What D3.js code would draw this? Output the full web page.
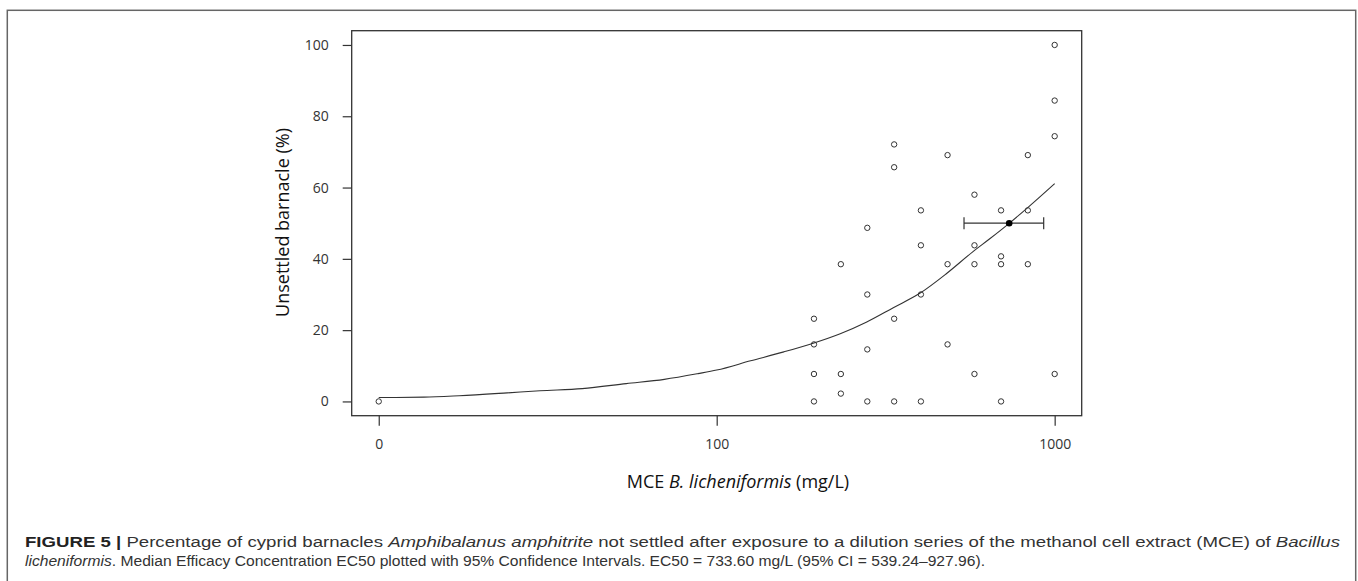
<!DOCTYPE html>
<html>
<head>
<meta charset="utf-8">
<script src="https://cdn.jsdelivr.net/npm/d3@7"></script>
<style>
  html, body { margin: 0; padding: 0; background: #fff; }
  svg { display: block; }
</style>
</head>
<body>
<svg id="chart" width="1358" height="581"></svg>
<script>
const obsDose = [
  0,
  194, 194, 194, 194,
  233, 233, 233,
  279, 279, 279, 279,
  335, 335, 335, 335,
  402, 402, 402, 402,
  482, 482, 482,
  579, 579, 579, 579,
  694, 694, 694, 694,
  833, 833, 833,
  1000, 1000, 1000, 1000
];
const obsValue = [
  0,
  23.2, 16.0, 7.7, 0,
  38.5, 7.7, 2.2,
  48.7, 30.0, 14.6, 0,
  72.1, 65.7, 23.2, 0,
  53.6, 43.8, 30.0, 0,
  69.1, 38.5, 16.0,
  58.0, 43.8, 38.5, 7.7,
  53.6, 40.7, 38.5, 0,
  69.1, 53.6, 38.5,
  100, 84.4, 74.4, 7.7
];

// fitted dose-response curve
const curveDose = [10, 13.6, 17.3, 24, 30, 40, 54, 70, 88, 100, 126, 158, 191, 232, 278, 333, 400, 479, 571, 644, 732, 826, 1000];
const curveValue = [1.1, 1.2, 1.6, 2.4, 3.0, 3.6, 5.0, 6.2, 7.8, 8.8, 11.4, 13.9, 16.2, 19.0, 22.3, 26.3, 30.4, 35.9, 41.9, 45.7, 49.9, 54.1, 61.1];

// EC50 with 95% CI
const ec50 = 733.60;
const ec50Response = 50;
const ciLow = 539.24;
const ciHigh = 927.96;

const xTickDose = [0, 100, 1000];
const xTickLabels = ["0", "100", "1000"];
const yTicks = [0, 20, 40, 60, 80, 100];

const breakDose = 10; // zero dose is drawn where 10 would be (broken log axis)

const svg = d3.select("#chart");
const plot = { left: 351.7, right: 1081.7, top: 30.7, bottom: 415.7 };
const ink = "#333";

const x = d3.scaleLog()
  .domain([Math.pow(10, 0.92), Math.pow(10, 3.08)])
  .range([plot.left, plot.right]);
const y = d3.scaleLinear()
  .domain([-4, 104])
  .range([plot.bottom, plot.top]);
const xPos = d => x(d === 0 ? breakDose : d);

// outer figure frame
svg.append("rect")
  .attr("x", 7.3).attr("y", 10.3)
  .attr("width", 1348.4).attr("height", 600)
  .attr("fill", "none")
  .attr("stroke", "#666")
  .attr("stroke-width", 1.5);

// plot box
svg.append("rect")
  .attr("x", plot.left).attr("y", plot.top)
  .attr("width", plot.right - plot.left)
  .attr("height", plot.bottom - plot.top)
  .attr("fill", "none")
  .attr("stroke", ink)
  .attr("stroke-width", 1.3);

// x axis
const xAxis = d3.axisBottom(x)
  .tickValues(xTickDose.map(d => d === 0 ? breakDose : d))
  .tickFormat((d, i) => xTickLabels[i])
  .tickSize(10)
  .tickPadding(13);
const gx = svg.append("g")
  .attr("transform", `translate(0,${plot.bottom})`)
  .call(xAxis);
gx.select(".domain").remove();

// y axis
const yAxis = d3.axisLeft(y)
  .tickValues(yTicks)
  .tickSize(9)
  .tickPadding(14);
const gy = svg.append("g")
  .attr("transform", `translate(${plot.left},0)`)
  .call(yAxis);
gy.select(".domain").remove();

svg.selectAll(".tick line").attr("stroke", ink).attr("stroke-width", 1.2);
svg.selectAll(".tick text")
  .attr("fill", ink)
  .attr("font-family", "'Open Sans', sans-serif")
  .attr("font-size", "14px");

// axis titles
const xTitle = svg.append("text")
  .attr("x", 738)
  .attr("y", 488)
  .attr("text-anchor", "middle")
  .attr("font-family", "'Open Sans', sans-serif")
  .attr("font-size", "18px")
  .attr("fill", "#111");
xTitle.append("tspan").text("MCE ");
xTitle.append("tspan").attr("font-style", "italic").text("B. licheniformis");
xTitle.append("tspan").text(" (mg/L)");

svg.append("text")
  .attr("transform", "translate(289,222.5) rotate(-90)")
  .attr("text-anchor", "middle")
  .attr("font-family", "'Open Sans', sans-serif")
  .attr("font-size", "18px")
  .attr("fill", "#111")
  .text("Unsettled barnacle (%)");

// fitted curve
const curvePts = curveDose.map((d, i) => [d, curveValue[i]]);
svg.append("path")
  .datum(curvePts)
  .attr("fill", "none")
  .attr("stroke", ink)
  .attr("stroke-width", 1.1)
  .attr("d", d3.line()
    .x(d => x(d[0]))
    .y(d => y(d[1]))
    .curve(d3.curveMonotoneX));

// observations
const obs = obsDose.map((d, i) => ({ dose: d, value: obsValue[i] }));
svg.append("g")
  .selectAll("circle")
  .data(obs)
  .join("circle")
  .attr("cx", d => xPos(d.dose))
  .attr("cy", d => y(d.value))
  .attr("r", 2.7)
  .attr("fill", "none")
  .attr("stroke", ink)
  .attr("stroke-width", 1);

// EC50 and CI
const ciY = y(ec50Response);
svg.append("line")
  .attr("x1", x(ciLow)).attr("x2", x(ciHigh))
  .attr("y1", ciY).attr("y2", ciY)
  .attr("stroke", ink).attr("stroke-width", 1.2);
[ciLow, ciHigh].forEach(c => {
  svg.append("line")
    .attr("x1", x(c)).attr("x2", x(c))
    .attr("y1", ciY - 6).attr("y2", ciY + 6)
    .attr("stroke", ink).attr("stroke-width", 1.2);
});
svg.append("circle")
  .attr("cx", x(ec50)).attr("cy", ciY)
  .attr("r", 3.3)
  .attr("fill", "#000");

// caption
const capFont = "'Liberation Sans', Arial, sans-serif";
const cap1 = svg.append("text")
  .attr("x", 25).attr("y", 547)
  .attr("font-family", capFont)
  .attr("font-size", "15.5px")
  .attr("fill", "#333")
  .attr("textLength", 1315)
  .attr("lengthAdjust", "spacingAndGlyphs");
cap1.append("tspan").attr("font-weight", "bold").attr("fill", "#222").text("FIGURE 5 | ");
cap1.append("tspan").text("Percentage of cyprid barnacles ");
cap1.append("tspan").attr("font-style", "italic").text("Amphibalanus amphitrite");
cap1.append("tspan").text(" not settled after exposure to a dilution series of the methanol cell extract (MCE) of ");
cap1.append("tspan").attr("font-style", "italic").text("Bacillus");

const cap2 = svg.append("text")
  .attr("x", 25).attr("y", 566)
  .attr("font-family", capFont)
  .attr("font-size", "15.5px")
  .attr("fill", "#333")
  .attr("textLength", 960)
  .attr("lengthAdjust", "spacingAndGlyphs");
cap2.append("tspan").attr("font-style", "italic").text("licheniformis");
cap2.append("tspan").text(". Median Efficacy Concentration EC50 plotted with 95% Confidence Intervals. EC50 = 733.60 mg/L (95% CI = 539.24\u2013927.96).");
</script>
</body>
</html>
